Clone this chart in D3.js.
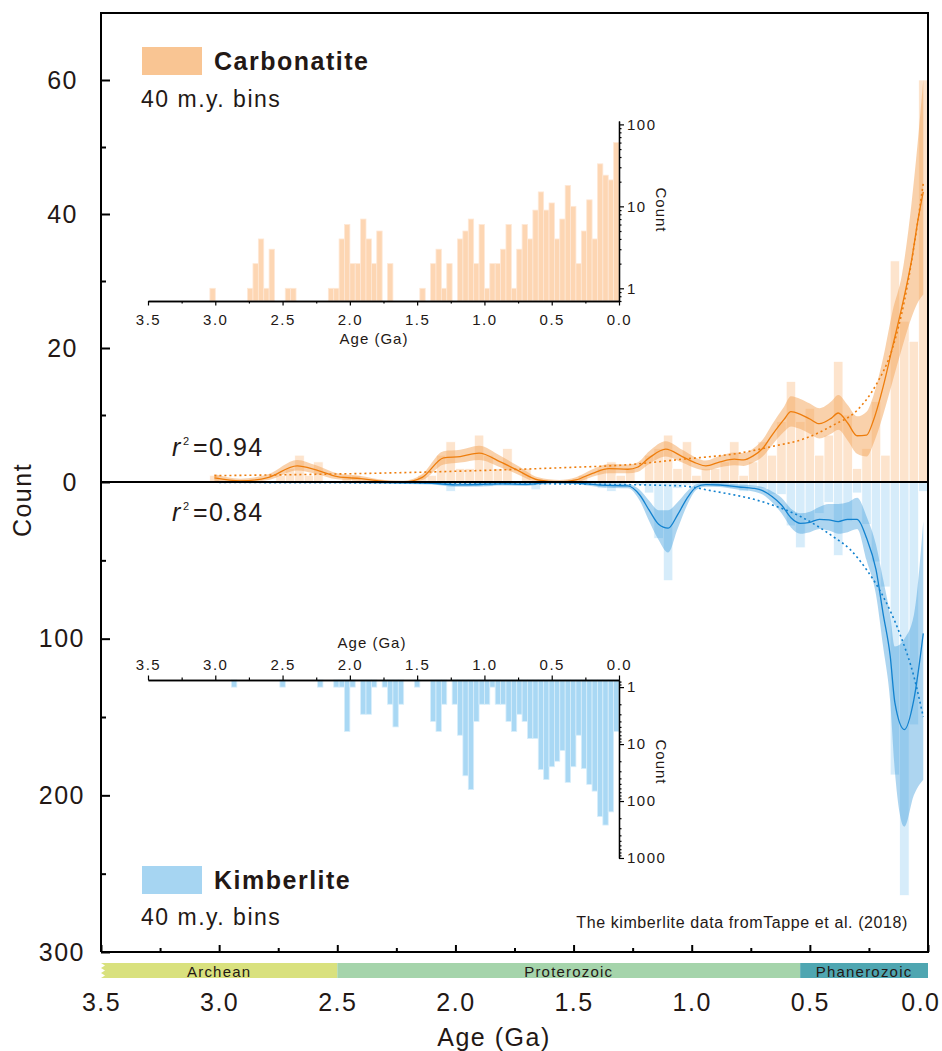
<!DOCTYPE html>
<html>
<head>
<meta charset="utf-8">
<script src="https://cdn.jsdelivr.net/npm/d3@7"></script>
<style>
  body { margin: 0; background: #fff; }
  svg { display: block; font-family: "Liberation Sans", Arial, sans-serif; }
</style>
</head>
<body>
<div id="wrapper"></div>
<script>
// 40 m.y. bins: bin start age (Ga) and count
const carbBinAge = [3.00, 2.72, 2.68, 2.64, 2.60, 2.56, 2.44, 2.40, 2.12, 2.08, 2.04, 2.00, 1.96, 1.92, 1.88, 1.84, 1.80, 1.76, 1.68, 1.44, 1.36, 1.32, 1.28, 1.24,
  1.16, 1.12, 1.08, 1.04, 1.00, 0.96, 0.92, 0.88, 0.84, 0.80, 0.76, 0.72, 0.68, 0.64, 0.60, 0.56, 0.52, 0.48, 0.44, 0.40, 0.36, 0.32, 0.28, 0.24, 0.20, 0.16, 0.12, 0.08, 0.04, 0.00]
const carbCount = [1, 1, 2, 4, 1, 3, 1, 1, 1, 1, 4, 6, 2, 2, 7, 4, 2, 5, 2, 1, 2, 3, 1, 2,
  4, 5, 7, 2, 6, 1, 2, 2, 3, 6, 1, 3, 6, 4, 9, 15, 9, 11, 4, 7, 18, 10, 2, 5, 12, 4, 33, 24, 21, 60]

const kimbBinAge = [2.84, 2.48, 2.20, 2.08, 2.04, 2.00, 1.96, 1.88, 1.84, 1.80, 1.72, 1.68, 1.64, 1.60, 1.48, 1.36, 1.32, 1.28,
  1.20, 1.16, 1.12, 1.08, 1.04, 1.00, 0.96, 0.92, 0.88, 0.84, 0.80, 0.76, 0.72, 0.68, 0.64, 0.60, 0.56, 0.52, 0.48, 0.44, 0.40, 0.36, 0.32, 0.28, 0.24, 0.20, 0.16, 0.12, 0.08, 0.04, 0.00]
const kimbCount = [1, 1, 1, 1, 1, 6, 1, 3, 3, 1, 1, 2, 5, 2, 1, 4, 6, 2,
  2, 7, 36, 63, 4, 2, 2, 1, 2, 2, 4, 6, 3, 4, 8, 8, 28, 42, 25, 20, 13, 47, 25, 7, 27, 51, 67, 187, 264, 155, 6]

const binWidth = 0.04

// smoothed record with uncertainty band
const carbSmoothAge = [3.02, 2.91, 2.79, 2.67, 2.59, 2.50, 2.40, 2.30, 2.22, 2.14, 2.05, 1.98, 1.90, 1.81, 1.74, 1.65, 1.56, 1.49, 1.42, 1.35, 1.27, 1.23, 1.18, 1.11, 1.04, 0.98, 0.94, 0.88, 0.82, 0.78, 0.74, 0.70, 0.66, 0.61, 0.58, 0.54, 0.50, 0.46, 0.41, 0.38, 0.34, 0.30, 0.26, 0.23, 0.19, 0.15, 0.11, 0.07, 0.04, 0.02]
const carbSmoothMean = [0.6, 0.15, 0.7, 2.4, 1.8, 0.8, 0.5, 0.1, 0, 0.7, 3.6, 3.8, 4.3, 3.0, 1.8, 0.3, 0, 0.3, 1.3, 2.0, 1.9, 2.2, 3.6, 4.9, 3.8, 2.8, 2.4, 3.0, 3.4, 3.3, 3.9, 5.0, 7.0, 9.3, 10.5, 10.1, 9.4, 8.7, 9.5, 10.3, 8.8, 6.9, 7.0, 9.3, 14.2, 20.2, 26.2, 33, 39.6, 43.3]
const carbSmoothLow = [0.2, 0, 0.3, 1.7, 1.2, 0.4, 0.2, 0, 0, 0.3, 2.6, 2.9, 3.3, 2.2, 1.2, 0, 0, 0, 0.8, 1.3, 1.3, 1.5, 2.7, 3.8, 2.9, 2.0, 1.7, 2.2, 2.5, 2.4, 2.9, 3.8, 5.5, 7.5, 8.3, 7.9, 7.2, 6.5, 7.2, 7.8, 6.2, 4.2, 3.8, 5.8, 10, 15, 20, 24.5, 27, 28]
const carbSmoothHigh = [1.2, 0.5, 1.2, 3.3, 2.5, 1.3, 0.9, 0.3, 0.2, 1.2, 4.6, 4.8, 5.4, 3.9, 2.5, 0.7, 0.3, 0.7, 1.9, 2.7, 2.6, 2.9, 4.6, 6.1, 4.8, 3.6, 3.2, 3.9, 4.4, 4.3, 5.0, 6.3, 8.6, 11.2, 12.8, 12.4, 11.7, 11.0, 12.0, 13.0, 11.5, 9.8, 10.5, 13.0, 18.5, 25.5, 31, 41.5, 52, 60]
const carbFitAge = [3.02, 2.5, 2.0, 1.5, 1.3, 1.04, 0.8, 0.66, 0.52, 0.40, 0.30, 0.22, 0.15, 0.10, 0.06, 0.02]
const carbFitValue = [0.95, 1.2, 1.6, 2.2, 2.5, 3.4, 4.3, 5.3, 6.5, 8.5, 10.7, 14.5, 20, 27, 35, 44.6]

const kimbSmoothAge = [2.86, 2.6, 2.4, 2.2, 2.1, 2.0, 1.9, 1.8, 1.7, 1.6, 1.5, 1.40, 1.33, 1.27, 1.22, 1.18, 1.14, 1.10, 1.06, 1.02, 0.98, 0.94, 0.88, 0.80, 0.74, 0.70, 0.66, 0.62, 0.58, 0.54, 0.50, 0.46, 0.42, 0.38, 0.34, 0.30, 0.26, 0.22, 0.19, 0.16, 0.14, 0.10, 0.06, 0.02]
const kimbSmoothMean = [0, 0.1, 0.3, 0.5, 0.8, 1.8, 1.6, 1.2, 1.5, 0.3, 0.5, 1.8, 2.3, 2.5, 8.3, 18, 27, 29.5, 21, 10.4, 3.2, 1.7, 1.9, 3.2, 4.0, 5.5, 9.3, 14.7, 22.8, 26.4, 25.7, 23.8, 24.2, 25.3, 23.8, 23.8, 35.8, 56, 84, 111, 141, 158, 139, 96.6]
const kimbSmoothLow = [0, 0, 0, 0.1, 0.2, 0.8, 0.7, 0.5, 0.6, 0, 0, 0.8, 1.1, 1.2, 5, 12, 18, 18, 13, 6, 1.5, 0.7, 0.8, 1.6, 2.2, 3.2, 6, 10, 17, 20, 19, 16, 14, 14, 13, 10, 22, 40, 62, 85, 105, 100, 85, 25]
const kimbSmoothHigh = [0.3, 0.5, 0.8, 1.2, 1.6, 3, 2.8, 2.2, 2.6, 1, 1.3, 3, 3.8, 4, 12, 25, 37, 45, 30, 15, 5, 3, 3.2, 5, 6, 8, 13, 20, 29, 33, 32, 30, 31, 33, 32, 30, 50, 72, 105, 140, 185, 220, 200, 190]
const kimbFitAge = [3.0, 2.5, 2.0, 1.5, 1.05, 0.92, 0.68, 0.54, 0.40, 0.33, 0.26, 0.19, 0.12, 0.06, 0.02]
const kimbFitValue = [0.3, 0.5, 0.8, 1.3, 2.4, 5.5, 13.6, 22, 35, 43, 56, 73, 96.6, 124, 150]

// axes
const ageTicks = [3.5, 3.0, 2.5, 2.0, 1.5, 1.0, 0.5, 0.0]
const ageMinorTicks = [3.25, 2.75, 2.25, 1.75, 1.25, 0.75, 0.25]
const topCountTicks = [0, 20, 40, 60]
const topCountMinor = [10, 30, 50]
const bottomCountTicks = [100, 200, 300]
const bottomCountMinor = [50, 150, 250]
const carbLogTicks = [1, 10, 100]
const kimbLogTicks = [1, 10, 100, 1000]

// geologic time scale
const eraNames = ["Archean", "Proterozoic", "Phanerozoic"]
const eraStart = [3.5, 2.5, 0.541]
const eraEnd = [2.5, 0.541, 0]

function drawChart() {
  const ink = "#231815"
  const colors = {
    carbInset: "#fdd6b3", carbMain: "#fcd2ab", carbLegend: "#f9c593",
    carbBand: "#f4a458", carbLine: "#ee7d0c",
    kimbInset: "#a9d8f4", kimbMain: "#b5dcf5", kimbLegend: "#a6d5f2",
    kimbBand: "#3c9bdc", kimbLine: "#1282cf",
    eras: ["#d9e17e", "#a5d4ab", "#4fa6b1"],
  }

  const dimensions = {
    width: 942,
    height: 1051,
    left: 101, right: 928, top: 13, bottom: 952, zero: 482,
    inset: { left: 148, right: 619 },
  }

  const carb = carbBinAge.map((a, i) => ({ age: a, count: carbCount[i] }))
  const kimb = kimbBinAge.map((a, i) => ({ age: a, count: kimbCount[i] }))
  const carbSmooth = carbSmoothAge.map((a, i) => ({ age: a, mean: carbSmoothMean[i], lo: carbSmoothLow[i], hi: carbSmoothHigh[i] }))
  const kimbSmooth = kimbSmoothAge.map((a, i) => ({ age: a, mean: kimbSmoothMean[i], lo: kimbSmoothLow[i], hi: kimbSmoothHigh[i] }))
  const carbFit = carbFitAge.map((a, i) => ({ age: a, v: carbFitValue[i] }))
  const kimbFit = kimbFitAge.map((a, i) => ({ age: a, v: kimbFitValue[i] }))

  const wrapper = d3.select("#wrapper")
    .append("svg")
    .attr("width", dimensions.width)
    .attr("height", dimensions.height)

  // scales
  const xScale = d3.scaleLinear().domain([3.5, 0]).range([dimensions.left, dimensions.right])
  const yTop = d3.scaleLinear().domain([0, 70]).range([dimensions.zero, dimensions.top])
  const yBot = d3.scaleLinear().domain([0, 300]).range([dimensions.zero, dimensions.bottom])

  const xInset = d3.scaleLinear().domain([3.5, 0]).range([dimensions.inset.left, dimensions.inset.right])
  const yCarbLog = d3.scaleLog().domain([0.7, 110]).range([301, 121])
  const yKimbLog = d3.scaleLog().domain([0.75, 1000]).range([680, 858])

  wrapper.append("defs").append("clipPath").attr("id", "plot-clip")
    .append("rect")
    .attr("x", dimensions.left).attr("y", dimensions.top)
    .attr("width", dimensions.right - dimensions.left)
    .attr("height", dimensions.bottom - dimensions.top)

  const plot = wrapper.append("g").attr("clip-path", "url(#plot-clip)")

  // main histogram bars
  plot.append("g").selectAll("rect")
    .data(carb)
    .join("rect")
    .attr("x", d => xScale(d.age + binWidth))
    .attr("y", d => yTop(d.count))
    .attr("width", d => xScale(d.age) - xScale(d.age + binWidth))
    .attr("height", d => dimensions.zero - yTop(d.count))
    .attr("fill", colors.carbMain)
    .attr("fill-opacity", 0.6)
    .attr("stroke", "#fff")
    .attr("stroke-width", 0.7)

  plot.append("g").selectAll("rect")
    .data(kimb)
    .join("rect")
    .attr("x", d => xScale(d.age + binWidth))
    .attr("y", dimensions.zero)
    .attr("width", d => xScale(d.age) - xScale(d.age + binWidth))
    .attr("height", d => yBot(d.count) - dimensions.zero)
    .attr("fill", colors.kimbMain)
    .attr("fill-opacity", 0.55)
    .attr("stroke", "#fff")
    .attr("stroke-width", 0.7)

  // bands, smoothed lines, fits
  const carbArea = d3.area().curve(d3.curveMonotoneX)
    .x(d => xScale(d.age)).y0(d => yTop(d.lo)).y1(d => yTop(d.hi))
  const carbLine = d3.line().curve(d3.curveMonotoneX)
    .x(d => xScale(d.age)).y(d => yTop(d.mean))
  const kimbArea = d3.area().curve(d3.curveMonotoneX)
    .x(d => xScale(d.age)).y0(d => yBot(d.lo)).y1(d => yBot(d.hi))
  const kimbLine = d3.line().curve(d3.curveMonotoneX)
    .x(d => xScale(d.age)).y(d => yBot(d.mean))

  plot.append("path").datum(carbSmooth)
    .attr("d", carbArea).attr("fill", colors.carbBand).attr("fill-opacity", 0.5)
  plot.append("path").datum(kimbSmooth)
    .attr("d", kimbArea).attr("fill", colors.kimbBand).attr("fill-opacity", 0.42)

  plot.append("path").datum(carbFit)
    .attr("d", d3.line().curve(d3.curveMonotoneX).x(d => xScale(d.age)).y(d => yTop(d.v)))
    .attr("fill", "none").attr("stroke", colors.carbLine)
    .attr("stroke-width", 1.6).attr("stroke-dasharray", "2,3")
  plot.append("path").datum(kimbFit)
    .attr("d", d3.line().curve(d3.curveMonotoneX).x(d => xScale(d.age)).y(d => yBot(d.v)))
    .attr("fill", "none").attr("stroke", colors.kimbLine)
    .attr("stroke-width", 1.6).attr("stroke-dasharray", "2,3")

  plot.append("path").datum(carbSmooth)
    .attr("d", carbLine).attr("fill", "none")
    .attr("stroke", colors.carbLine).attr("stroke-width", 1.3)
  plot.append("path").datum(kimbSmooth)
    .attr("d", kimbLine).attr("fill", "none")
    .attr("stroke", colors.kimbLine).attr("stroke-width", 1.3)

  // zero line & frame
  wrapper.append("line")
    .attr("x1", dimensions.left).attr("x2", dimensions.right)
    .attr("y1", dimensions.zero).attr("y2", dimensions.zero)
    .attr("stroke", "#000").attr("stroke-width", 2)

  wrapper.append("path")
    .attr("d", `M${dimensions.left},${dimensions.bottom}V${dimensions.top}H${dimensions.right}V${dimensions.bottom}H${dimensions.left}`)
    .attr("fill", "none").attr("stroke", "#000").attr("stroke-width", 2)

  // main axes
  const styleAxis = (g, size) => {
    g.select(".domain").remove()
    g.selectAll("line").attr("stroke", "#000").attr("stroke-width", 2)
    g.selectAll("text")
      .attr("fill", ink)
      .style("font-size", size + "px")
      .style("letter-spacing", "1.5px")
  }

  wrapper.append("g")
    .attr("transform", `translate(${dimensions.left},0)`)
    .call(d3.axisLeft(yTop).tickValues(topCountTicks).tickSize(-9).tickPadding(23))
    .call(g => styleAxis(g, 25))
  wrapper.append("g")
    .attr("transform", `translate(${dimensions.left},0)`)
    .call(d3.axisLeft(yTop).tickValues(topCountMinor).tickSize(-5).tickFormat(""))
    .call(g => styleAxis(g, 25))
  wrapper.append("g")
    .attr("transform", `translate(${dimensions.left},0)`)
    .call(d3.axisLeft(yBot).tickValues(bottomCountTicks).tickSize(-9).tickPadding(16))
    .call(g => styleAxis(g, 25))
  wrapper.append("g")
    .attr("transform", `translate(${dimensions.left},0)`)
    .call(d3.axisLeft(yBot).tickValues(bottomCountMinor).tickSize(-5).tickFormat(""))
    .call(g => styleAxis(g, 25))

  wrapper.append("g")
    .attr("transform", `translate(0,${dimensions.bottom})`)
    .call(d3.axisBottom(xScale).tickValues(ageTicks).tickSize(-7).tickPadding(41).tickFormat(d3.format(".1f")))
    .call(g => styleAxis(g, 25))
    // keep the last label inside the picture
    .call(g => g.selectAll(".tick text").filter(d => d === 0)
      .attr("text-anchor", "end").attr("x", 940 - dimensions.right))
  wrapper.append("g")
    .attr("transform", `translate(0,${dimensions.bottom})`)
    .call(d3.axisBottom(xScale).tickValues(ageMinorTicks).tickSize(-4).tickFormat(""))
    .call(g => styleAxis(g, 25))

  wrapper.append("text")
    .attr("x", 494).attr("y", 1046)
    .attr("text-anchor", "middle")
    .attr("fill", ink)
    .style("font-size", "25px").style("letter-spacing", "1.5px")
    .text("Age (Ga)")

  wrapper.append("text")
    .attr("transform", "translate(31,500) rotate(-90)")
    .attr("text-anchor", "middle")
    .attr("fill", ink)
    .style("font-size", "25px").style("letter-spacing", "1.5px")
    .text("Count")

  // geologic time bar
  const eras = eraNames.map((n, i) => ({ name: n, start: eraStart[i], end: eraEnd[i] }))
  const eraG = wrapper.append("g")
  eraG.selectAll("rect")
    .data(eras)
    .join("rect")
    .attr("x", d => xScale(d.start))
    .attr("y", 963)
    .attr("width", d => xScale(d.end) - xScale(d.start))
    .attr("height", 15)
    .attr("fill", (d, i) => colors.eras[i])
  eraG.selectAll("text")
    .data(eras)
    .join("text")
    .attr("x", d => (xScale(d.start) + xScale(d.end)) / 2)
    .attr("y", 976.5)
    .attr("text-anchor", "middle")
    .attr("fill", ink)
    .style("font-size", "15px").style("letter-spacing", "1.2px")
    .text(d => d.name)
  eraG.append("path")
    .attr("d", `M${dimensions.left},963 l4,2.5 l-4,2.5 l4,2.5 l-4,2.5 l4,2.5 l-4,2.5 Z`)
    .attr("fill", "#fff")

  // insets
  const styleInset = g => {
    g.select(".domain").attr("stroke", "#000").attr("stroke-width", 1.3)
    g.selectAll("line").attr("stroke", "#000").attr("stroke-width", 1.2)
    g.selectAll("text")
      .attr("fill", ink)
      .style("font-size", "15px")
      .style("letter-spacing", "1.5px")
  }

  // carbonatite inset
  wrapper.append("g").selectAll("rect")
    .data(carb)
    .join("rect")
    .attr("x", d => xInset(d.age + binWidth))
    .attr("y", d => yCarbLog(d.count))
    .attr("width", d => xInset(d.age) - xInset(d.age + binWidth))
    .attr("height", d => 301 - yCarbLog(d.count))
    .attr("fill", colors.carbInset)
    .attr("stroke", "#fee8d6")
    .attr("stroke-width", 0.8)

  wrapper.append("g")
    .attr("transform", "translate(0,301)")
    .call(d3.axisBottom(xInset).tickValues(ageTicks).tickSize(4.5).tickSizeOuter(0).tickPadding(8.5).tickFormat(d3.format(".1f")))
    .call(styleInset)
  wrapper.append("g")
    .attr("transform", "translate(0,301)")
    .call(d3.axisBottom(xInset).tickValues(ageMinorTicks).tickSize(2.5).tickSizeOuter(0).tickFormat(""))
    .call(styleInset)

  const carbLogMinor = [0.7, 0.8, 0.9, 2, 3, 4, 5, 6, 7, 8, 9, 20, 30, 40, 50, 60, 70, 80, 90]
  wrapper.append("g")
    .attr("transform", `translate(${dimensions.inset.right},0)`)
    .call(d3.axisRight(yCarbLog).tickValues(carbLogTicks).tickSize(5).tickSizeOuter(0).tickPadding(3).tickFormat(d3.format("d")))
    .call(styleInset)
  wrapper.append("g")
    .attr("transform", `translate(${dimensions.inset.right},0)`)
    .call(d3.axisRight(yCarbLog).tickValues(carbLogMinor).tickSize(2.5).tickSizeOuter(0).tickFormat(""))
    .call(styleInset)

  wrapper.append("text")
    .attr("x", 374).attr("y", 344)
    .attr("text-anchor", "middle").attr("fill", ink)
    .style("font-size", "15px").style("letter-spacing", "1px")
    .text("Age (Ga)")
  wrapper.append("text")
    .attr("transform", "translate(661,210) rotate(90)")
    .attr("dy", "0.35em")
    .attr("text-anchor", "middle").attr("fill", ink)
    .style("font-size", "15px").style("letter-spacing", "1px")
    .text("Count")

  // kimberlite inset
  wrapper.append("g").selectAll("rect")
    .data(kimb)
    .join("rect")
    .attr("x", d => xInset(d.age + binWidth))
    .attr("y", 680)
    .attr("width", d => xInset(d.age) - xInset(d.age + binWidth))
    .attr("height", d => yKimbLog(d.count) - 680)
    .attr("fill", colors.kimbInset)
    .attr("stroke", "#d8eefb")
    .attr("stroke-width", 0.8)

  wrapper.append("g")
    .attr("transform", "translate(0,680)")
    .call(d3.axisTop(xInset).tickValues(ageTicks).tickSize(4.5).tickSizeOuter(0).tickPadding(5.5).tickFormat(d3.format(".1f")))
    .call(styleInset)
  wrapper.append("g")
    .attr("transform", "translate(0,680)")
    .call(d3.axisTop(xInset).tickValues(ageMinorTicks).tickSize(2.5).tickSizeOuter(0).tickFormat(""))
    .call(styleInset)

  const kimbLogMinor = [0.8, 0.9, 2, 3, 4, 5, 6, 7, 8, 9, 20, 30, 40, 50, 60, 70, 80, 90, 200, 300, 400, 500, 600, 700, 800, 900]
  wrapper.append("g")
    .attr("transform", `translate(${dimensions.inset.right},0)`)
    .call(d3.axisRight(yKimbLog).tickValues(kimbLogTicks).tickSize(5).tickSizeOuter(0).tickPadding(3).tickFormat(d3.format("d")))
    .call(styleInset)
  wrapper.append("g")
    .attr("transform", `translate(${dimensions.inset.right},0)`)
    .call(d3.axisRight(yKimbLog).tickValues(kimbLogMinor).tickSize(2.5).tickSizeOuter(0).tickFormat(""))
    .call(styleInset)

  wrapper.append("text")
    .attr("x", 372).attr("y", 648)
    .attr("text-anchor", "middle").attr("fill", ink)
    .style("font-size", "15px").style("letter-spacing", "1px")
    .text("Age (Ga)")
  wrapper.append("text")
    .attr("transform", "translate(661,762) rotate(90)")
    .attr("dy", "0.35em")
    .attr("text-anchor", "middle").attr("fill", ink)
    .style("font-size", "15px").style("letter-spacing", "1px")
    .text("Count")

  // legends
  const legend = (y, color, name, binsY) => {
    wrapper.append("rect")
      .attr("x", 142).attr("y", y).attr("width", 60).attr("height", 28)
      .attr("fill", color)
    wrapper.append("text")
      .attr("x", 214).attr("y", y + 23)
      .attr("fill", ink)
      .style("font-size", "25px").style("font-weight", "bold").style("letter-spacing", "1.5px")
      .text(name)
    wrapper.append("text")
      .attr("x", 141).attr("y", binsY)
      .attr("fill", ink)
      .style("font-size", "23px").style("letter-spacing", "1.5px")
      .text("40 m.y. bins")
  }
  legend(47, colors.carbLegend, "Carbonatite", 107)
  legend(866, colors.kimbLegend, "Kimberlite", 925)

  // r squared labels
  const rSquared = (y, value) => {
    const t = wrapper.append("text").attr("y", y).attr("fill", ink)
      .style("font-size", "25px").style("letter-spacing", "1.5px")
    t.append("tspan").attr("x", 172).style("font-style", "italic").text("r")
    t.append("tspan").attr("x", 183).attr("dy", -11).style("font-size", "11px").text("2")
    t.append("tspan").attr("x", 193).attr("dy", 11).text("=" + value)
  }
  rSquared(456, "0.94")
  rSquared(521, "0.84")

  wrapper.append("text")
    .attr("x", 908).attr("y", 928)
    .attr("text-anchor", "end")
    .attr("fill", ink)
    .style("font-size", "16px").style("letter-spacing", "0.6px")
    .text("The kimberlite data fromTappe et al. (2018)")
}

drawChart()
</script>
</body>
</html>
